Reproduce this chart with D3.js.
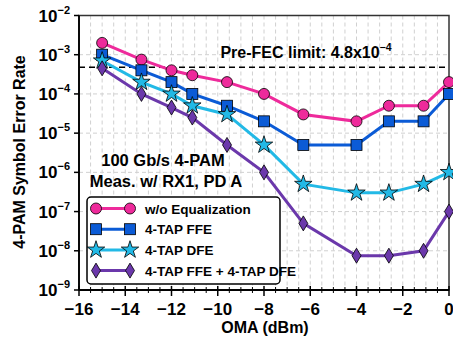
<!DOCTYPE html>
<html><head><meta charset="utf-8">
<script src="https://cdn.jsdelivr.net/npm/d3@7"></script>
<style>body{margin:0;background:#fff}svg{display:block}text{font-family:"Liberation Sans",Arial,sans-serif;font-weight:bold}</style>
</head><body><svg id="c" width="453" height="345"></svg>
<script>
const oma = [-15, -13.3, -12, -11.1, -9.6, -8, -6.3, -4, -2.6, -1.1, 0];
const serNoEq  = [2e-3, 7.5e-4, 4e-4, 3e-4, 2e-4, 1e-4, 3e-5, 2e-5, 5e-5, 5e-5, 2e-4];
const serFFE   = [1e-3, 4e-4, 2e-4, 1e-4, 5e-5, 2e-5, 5e-6, 5e-6, 2e-5, 2e-5, 1e-4];
const serDFE   = [7e-4, 2e-4, 1e-4, 5e-5, 3e-5, 5e-6, 5e-7, 3e-7, 3e-7, 5e-7, 1e-6];
const serBoth  = [4.5e-4, 1e-4, 4.5e-5, 2.5e-5, 5e-6, 1e-6, 5e-8, 7.5e-9, 7.5e-9, 1e-8, 1e-7];
const seriesNames = ["w/o Equalization", "4-TAP FFE", "4-TAP DFE", "4-TAP FFE + 4-TAP DFE"];
const xTicks = [-16, -14, -12, -10, -8, -6, -4, -2, 0];
const yExps = [-2, -3, -4, -5, -6, -7, -8, -9];
const preFec = 4.8e-4;

const series = [
  {name: seriesNames[0], vals: serNoEq, color: "#ee2a9b", sym: "circle"},
  {name: seriesNames[1], vals: serFFE, color: "#0b5bd6", sym: "square"},
  {name: seriesNames[2], vals: serDFE, color: "#22b9e6", sym: "star"},
  {name: seriesNames[3], vals: serBoth, color: "#6b38ab", sym: "diamond"}
];

const svg = d3.select("#c");
const L = 79, R = 449, T = 15.5, B = 290;
const x = d3.scaleLinear().domain([-16, 0]).range([L, R]);
const y = d3.scaleLog().domain([1e-9, 1e-2]).range([B, T]);

// grid
const g = svg.append("g");
g.selectAll("line.vg").data(d3.range(-15.5, 0, 0.5)).enter().append("line")
  .attr("x1", d => x(d)).attr("x2", d => x(d)).attr("y1", T).attr("y2", B)
  .attr("stroke", "#d0d0d0").attr("stroke-width", 1).attr("stroke-dasharray", "4,3");
g.selectAll("line.hg").data(yExps.slice(1, -1)).enter().append("line")
  .attr("x1", L).attr("x2", R).attr("y1", d => y(Math.pow(10, d))).attr("y2", d => y(Math.pow(10, d)))
  .attr("stroke", "#d0d0d0").attr("stroke-width", 1).attr("stroke-dasharray", "4,3");

// pre-FEC line
svg.append("line").attr("x1", L).attr("x2", R).attr("y1", y(preFec)).attr("y2", y(preFec))
  .attr("stroke", "#000").attr("stroke-width", 1.5).attr("stroke-dasharray", "6,4");
const pf = svg.append("text").attr("x", 306).attr("y", 58).attr("text-anchor", "middle")
  .attr("font-size", 16).attr("fill", "#000");
pf.append("tspan").text("Pre-FEC limit: 4.8x10");
pf.append("tspan").attr("dy", -7).attr("font-size", 10.5).text("\u22124");

// frame
svg.append("rect").attr("x", L).attr("y", T).attr("width", R - L).attr("height", B - T)
  .attr("fill", "none").attr("stroke", "#333").attr("stroke-width", 1.5);
svg.append("line").attr("x1", L).attr("x2", L).attr("y1", T).attr("y2", B).attr("stroke", "#000").attr("stroke-width", 1.8);
svg.append("line").attr("x1", L).attr("x2", R).attr("y1", B).attr("y2", B).attr("stroke", "#000").attr("stroke-width", 1.8);

// x ticks
svg.selectAll("line.xmt").data(d3.range(-15.5, 0, 0.5).filter(d => d % 2 !== 0)).enter().append("line")
  .attr("x1", d => x(d)).attr("x2", d => x(d)).attr("y1", B - 3).attr("y2", B + 3)
  .attr("stroke", "#000").attr("stroke-width", 1);
svg.selectAll("line.xt").data(xTicks).enter().append("line")
  .attr("x1", d => x(d)).attr("x2", d => x(d)).attr("y1", B - 4).attr("y2", B + 6)
  .attr("stroke", "#000").attr("stroke-width", 1.5);
svg.selectAll("text.xl").data(xTicks).enter().append("text")
  .attr("x", d => x(d)).attr("y", 315).attr("text-anchor", "middle").attr("font-size", 17)
  .text(d => d < 0 ? "\u2212" + Math.abs(d) : String(d));
svg.append("text").attr("x", 265).attr("y", 333).attr("text-anchor", "middle").attr("font-size", 16).text("OMA (dBm)");

// y ticks
svg.selectAll("line.yt").data(yExps).enter().append("line")
  .attr("x1", L - 5).attr("x2", L).attr("y1", d => y(Math.pow(10, d))).attr("y2", d => y(Math.pow(10, d)))
  .attr("stroke", "#000").attr("stroke-width", 1.5);
yExps.forEach(e => {
  const t = svg.append("text").attr("x", 70).attr("y", y(Math.pow(10, e)) + 6)
    .attr("text-anchor", "end").attr("font-size", 17);
  t.append("tspan").text("10");
  t.append("tspan").attr("dy", -8).attr("font-size", 11).text("\u2212" + Math.abs(e));
});
svg.append("text").attr("transform", "translate(25,152) rotate(-90)").attr("text-anchor", "middle")
  .attr("font-size", 16).text("4-PAM Symbol Error Rate");

// annotation
svg.append("text").attr("x", 163).attr("y", 166).attr("text-anchor", "middle").attr("font-size", 16.5).text("100 Gb/s 4-PAM");
svg.append("text").attr("x", 166).attr("y", 187).attr("text-anchor", "middle").attr("font-size", 16.5).text("Meas. w/ RX1, PD A");

// markers
function drawMarker(sel, sym, color) {
  if (sym === "circle") {
    sel.append("circle").attr("r", 5.5).attr("fill", color).attr("stroke", "#000").attr("stroke-width", 0.8);
  } else if (sym === "square") {
    sel.append("rect").attr("x", -5.5).attr("y", -5.5).attr("width", 11).attr("height", 11)
      .attr("fill", color).attr("stroke", "#000").attr("stroke-width", 0.8);
  } else if (sym === "star") {
    sel.append("path").attr("d", d3.symbol(d3.symbolStar, 95)()).attr("fill", color)
      .attr("stroke", "#000").attr("stroke-width", 0.8);
  } else {
    sel.append("path").attr("d", "M0,-7.5L4.5,0L0,7.5L-4.5,0Z").attr("fill", color)
      .attr("stroke", "#000").attr("stroke-width", 0.8);
  }
}

const line = d3.line().x(d => x(d[0])).y(d => y(d[1]));
series.forEach(s => {
  const pts = oma.map((o, i) => [o, s.vals[i]]);
  svg.append("path").attr("d", line(pts)).attr("fill", "none").attr("stroke", s.color).attr("stroke-width", 3);
});
series.forEach(s => {
  const pts = oma.map((o, i) => [o, s.vals[i]]);
  pts.forEach(p => {
    const gm = svg.append("g").attr("transform", `translate(${x(p[0])},${y(p[1])})`);
    drawMarker(gm, s.sym, s.color);
  });
});

// legend
svg.append("rect").attr("x", 87).attr("y", 197).attr("width", 193).attr("height", 87).attr("rx", 4)
  .attr("fill", "#fff").attr("stroke", "#000").attr("stroke-width", 1.5);
series.forEach((s, i) => {
  const ly = 208.5 + i * 20.7;
  svg.append("line").attr("x1", 96).attr("x2", 130).attr("y1", ly).attr("y2", ly)
    .attr("stroke", s.color).attr("stroke-width", 3);
  drawMarker(svg.append("g").attr("transform", `translate(96,${ly})`), s.sym, s.color);
  drawMarker(svg.append("g").attr("transform", `translate(130,${ly})`), s.sym, s.color);
  svg.append("text").attr("x", 145).attr("y", ly + 5).attr("font-size", 13.5).text(s.name);
});
</script></body></html>
